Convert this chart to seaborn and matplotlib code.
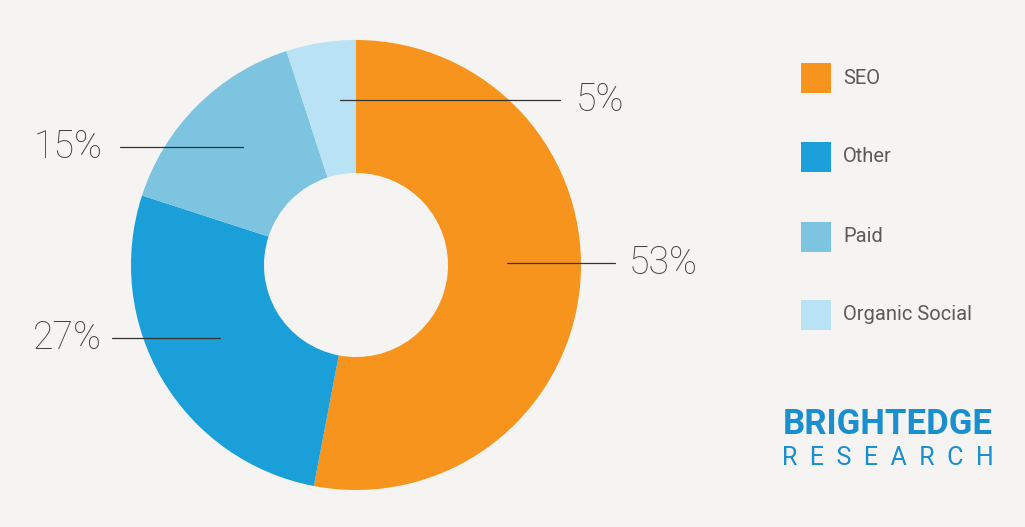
import matplotlib
matplotlib.use("Agg")
import matplotlib.pyplot as plt
import seaborn as sns

categories = ["SEO", "Other", "Paid", "Organic Social"]
values = [53, 27, 15, 5]
labels = ["53%", "27%", "15%", "5%"]
colors = ["#F7941D", "#1A9FD9", "#7DC4E0", "#B9E2F5"]

sns.set_style("white")
plt.rcParams['font.family'] = ['Roboto', 'DejaVu Sans']
bg = "#F5F4F2"
fig = plt.figure(figsize=(10.25, 5.27), dpi=100, facecolor=bg)
ax = fig.add_axes([0, 0, 1, 1])
ax.set_facecolor(bg)

cx, cy, R = 356, 527 - 265, 225
ax.pie(values, colors=colors, startangle=90, counterclock=False,
       center=(cx, cy), radius=R, wedgeprops=dict(width=R - 92, linewidth=0),
       frame=True)
ax.set_xlim(0, 1025); ax.set_ylim(0, 527)
ax.set_aspect('equal'); ax.axis('off')

ann = {"5%": (340, 560, 100, 576, 'left'),
       "15%": (243, 120, 147, 103, 'right'),
       "53%": (507, 615, 263, 629, 'left'),
       "27%": (220, 112, 338, 102, 'right')}
for lab in labels:
    x0, x1, y, tx, ha = ann[lab]
    ax.plot([x0, x1], [527 - y, 527 - y], color="#333333", lw=0.9)
    ax.text(tx, 527 - y, lab, ha=ha, va='center', fontsize=27,
            color="#444444", fontweight='light')

ys = [78, 157, 237, 315]
for cat, col, y in zip(categories, colors, ys):
    ax.add_patch(plt.Rectangle((801, 527 - y - 15), 30, 30, color=col, lw=0))
    ax.text(843, 527 - y, cat, ha='left', va='center', fontsize=14.5,
            color="#5a5a5a")

ax.text(888, 527 - 424, "BRIGHTEDGE", ha='center', va='center', fontsize=25,
        fontweight='bold', color="#1A8FD0")
ax.text(888, 527 - 458, "R  E  S  E  A  R  C  H", ha='center', va='center', fontsize=18,
        color="#1A8FD0")

fig.savefig("out.png", dpi=100, facecolor=bg)
